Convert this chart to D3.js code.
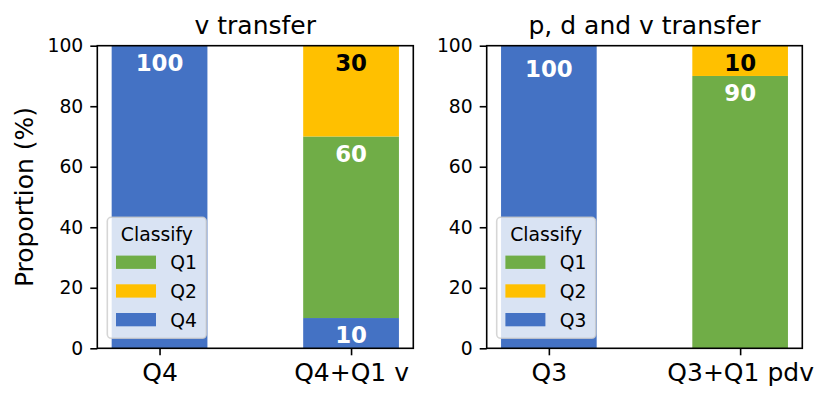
<!DOCTYPE html>
<html>
<head>
<meta charset="utf-8">
<script src="https://cdn.jsdelivr.net/npm/d3@7"></script>
<style>
  html, body { margin: 0; padding: 0; background: #fff; }
  svg { display: block; font-family: "DejaVu Sans", sans-serif; }
</style>
</head>
<body>
<svg id="chart" width="830" height="402"></svg>
<script>
// ---- Data ----
const titles = ["v transfer", "p, d and v transfer"];
const leftCategories = ["Q4", "Q4+Q1 v"];
const rightCategories = ["Q3", "Q3+Q1 pdv"];
// stacked bottom -> top: base class, Q1, Q2
const leftBaseName = "Q4";
const leftBase = [100, 10];
const leftQ1 = [0, 60];
const leftQ2 = [0, 30];
const rightBaseName = "Q3";
const rightBase = [100, 0];
const rightQ1 = [0, 90];
const rightQ2 = [0, 10];
const yTicks = [0, 20, 40, 60, 80, 100];
const yLabel = "Proportion (%)";
const legendTitle = "Classify";

const colors = { base: "#4472c4", Q1: "#70ad47", Q2: "#ffc000" };
const labelColors = { base: "#fff", Q1: "#fff", Q2: "#000" };

const svg = d3.select("#chart");
const plotTop = 45.7, plotBottom = 348.3;
const panels = [
  { x0: 97.3, x1: 413.3, title: titles[0], cats: leftCategories, baseName: leftBaseName, labelInset: [17, 17],
    series: [ { key: "base", vals: leftBase }, { key: "Q1", vals: leftQ1 }, { key: "Q2", vals: leftQ2 } ] },
  { x0: 486.7, x1: 802.3, title: titles[1], cats: rightCategories, baseName: rightBaseName, labelInset: [23, 17],
    series: [ { key: "base", vals: rightBase }, { key: "Q1", vals: rightQ1 }, { key: "Q2", vals: rightQ2 } ] }
];

const y = d3.scaleLinear().domain([0, 100]).range([plotBottom, plotTop]);

panels.forEach((p, pi) => {
  const x = d3.scaleLinear().domain([-0.325, 1.325]).range([p.x0, p.x1]);
  const barW = 0.5;
  const g = svg.append("g");

  // stacked bars
  p.cats.forEach((c, ci) => {
    let cum = 0;
    p.series.forEach(s => {
      const v = s.vals[ci];
      if (v > 0) {
        const y0 = cum, y1 = cum + v;
        g.append("rect")
          .attr("x", x(ci - barW / 2))
          .attr("width", x(ci + barW / 2) - x(ci - barW / 2))
          .attr("y", y(y1))
          .attr("height", y(y0) - y(y1))
          .attr("fill", colors[s.key]);
        g.append("text")
          .attr("x", x(ci))
          .attr("y", y(y1) + p.labelInset[ci] + 8.3)
          .attr("text-anchor", "middle")
          .attr("font-weight", "bold")
          .attr("font-size", 22.9)
          .attr("fill", labelColors[s.key])
          .text(v);
        cum = y1;
      }
    });
  });

  // axes
  const yAxis = d3.axisLeft(y).tickValues(yTicks).tickSize(7).tickPadding(7);
  const ya = g.append("g").attr("transform", `translate(${p.x0},0)`).call(yAxis);
  ya.select(".domain").remove();
  ya.selectAll("text").attr("font-size", 18.75).attr("font-family", "DejaVu Sans").attr("fill", "#000");
  ya.selectAll("line").attr("stroke", "#000").attr("stroke-width", 1.6);

  const xAxis = d3.axisBottom(x).tickValues([0, 1]).tickFormat((d, i) => p.cats[d]).tickSize(7).tickPadding(8);
  const xa = g.append("g").attr("transform", `translate(0,${plotBottom})`).call(xAxis);
  xa.select(".domain").remove();
  xa.selectAll("text").attr("font-size", 25).attr("font-family", "DejaVu Sans").attr("fill", "#000");
  xa.selectAll("line").attr("stroke", "#000").attr("stroke-width", 1.6);

  // frame
  g.append("rect").attr("x", p.x0).attr("y", plotTop).attr("width", p.x1 - p.x0).attr("height", plotBottom - plotTop)
    .attr("fill", "none").attr("stroke", "#000").attr("stroke-width", 1.6);

  // title
  g.append("text").attr("x", (p.x0 + p.x1) / 2).attr("y", 33.5).attr("text-anchor", "middle")
    .attr("font-size", 25).attr("fill", "#000").text(p.title);

  // legend
  const lx = p.x0 + 10, lw = 99, lh = 121, ly = plotBottom - 10 - lh;
  const lg = g.append("g");
  lg.append("rect").attr("x", lx).attr("y", ly).attr("width", lw).attr("height", lh).attr("rx", 4)
    .attr("fill", "#fff").attr("fill-opacity", 0.8).attr("stroke", "#cccccc").attr("stroke-opacity", 0.8).attr("stroke-width", 1.6);
  lg.append("text").attr("x", lx + lw / 2).attr("y", ly + 16.7 + 6.8).attr("text-anchor", "middle")
    .attr("font-size", 18.75).attr("fill", "#000").text(legendTitle);
  const items = [ { key: "Q1", name: "Q1" }, { key: "Q2", name: "Q2" }, { key: "base", name: p.baseName } ];
  items.forEach((it, i) => {
    const cy = ly + 45 + i * 28.7;
    lg.append("rect").attr("x", lx + 8.7).attr("y", cy - 6.7).attr("width", 40).attr("height", 13.3).attr("fill", colors[it.key]);
    lg.append("text").attr("x", lx + 63).attr("y", cy + 6.8).attr("font-size", 18.75).attr("fill", "#000").text(it.name);
  });

  if (pi === 0) {
    svg.append("text").attr("transform", `translate(33,${(plotTop + plotBottom) / 2}) rotate(-90)`)
      .attr("text-anchor", "middle").attr("font-size", 25).attr("fill", "#000").text(yLabel);
  }
});
</script>
</body>
</html>
